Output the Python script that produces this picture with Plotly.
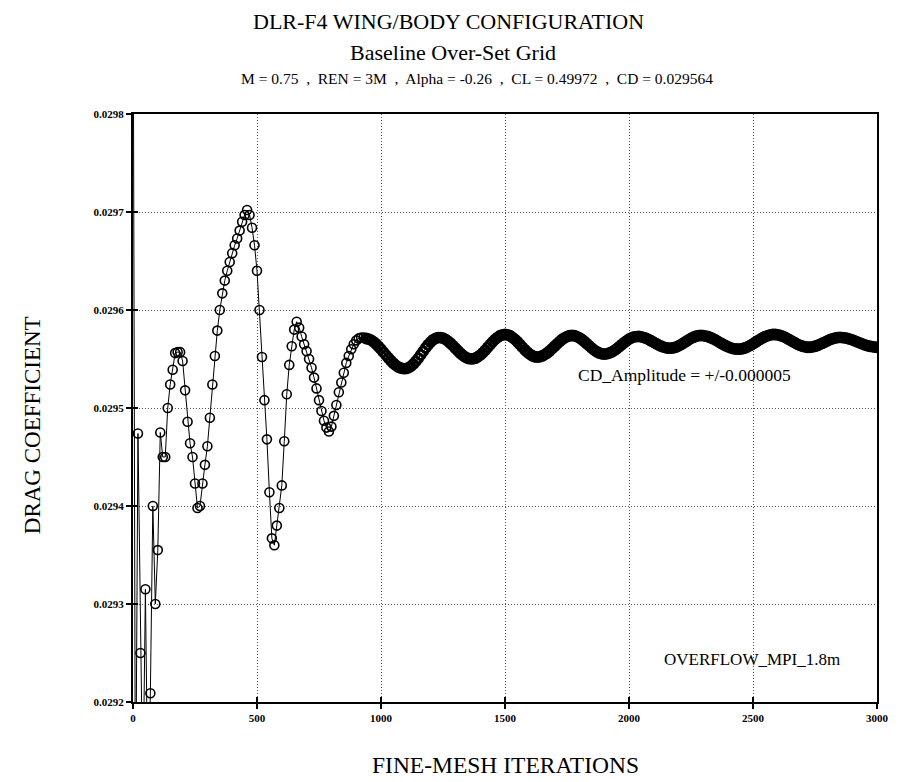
import plotly.graph_objects as go

# Sampling interval of the solver history (iterations)
ITER_STEP = 10

# Drag-coefficient history, transient phase (iterations 0 .. 930)
CD_TRANSIENT = [
    0.030000, 0.029050, 0.029474, 0.029250, 0.029100, 0.029315, 0.029100, 0.029209,
    0.029400, 0.029300, 0.029355, 0.029475, 0.029450, 0.029450, 0.029500, 0.029524,
    0.029539, 0.029556, 0.029557, 0.029557, 0.029548, 0.029518, 0.029486, 0.029464,
    0.029450, 0.029423, 0.029398, 0.029400, 0.029423, 0.029442, 0.029461, 0.029490,
    0.029524, 0.029553, 0.029579, 0.029600, 0.029617, 0.029630, 0.029640, 0.029649,
    0.029658, 0.029666, 0.029673, 0.029681, 0.029690, 0.029697, 0.029702, 0.029697,
    0.029684, 0.029666, 0.029640, 0.029600, 0.029552, 0.029508, 0.029468, 0.029414,
    0.029367, 0.029360, 0.029380, 0.029398, 0.029421, 0.029466, 0.029514, 0.029544,
    0.029563, 0.029580, 0.029588, 0.029582, 0.029573, 0.029565, 0.029558, 0.029550,
    0.029541, 0.029531, 0.029520, 0.029508, 0.029497, 0.029487, 0.029480, 0.029476,
    0.029481, 0.029492, 0.029503, 0.029516, 0.029526, 0.029536, 0.029546, 0.029553,
    0.029560, 0.029565, 0.029569, 0.029571, 0.029572, 0.029572,
]

# Drag-coefficient history, periodic phase (iterations 940 .. 3000)
CD_PERIODIC = [
    0.0295709, 0.0295703, 0.0295692, 0.0295675, 0.0295653, 0.0295628, 0.0295600, 0.0295570,
    0.0295540, 0.0295510, 0.0295482, 0.0295457, 0.0295435, 0.0295418, 0.0295407, 0.0295401,
    0.0295401, 0.0295409, 0.0295424, 0.0295447, 0.0295475, 0.0295507, 0.0295542, 0.0295578,
    0.0295613, 0.0295645, 0.0295673, 0.0295696, 0.0295711, 0.0295719, 0.0295719, 0.0295713,
    0.0295701, 0.0295683, 0.0295661, 0.0295636, 0.0295610, 0.0295584, 0.0295559, 0.0295537,
    0.0295520, 0.0295507, 0.0295501, 0.0295501, 0.0295508, 0.0295521, 0.0295539, 0.0295563,
    0.0295589, 0.0295618, 0.0295647, 0.0295675, 0.0295700, 0.0295721, 0.0295737, 0.0295747,
    0.0295750, 0.0295747, 0.0295737, 0.0295721, 0.0295700, 0.0295676, 0.0295649, 0.0295621,
    0.0295594, 0.0295570, 0.0295549, 0.0295533, 0.0295523, 0.0295520, 0.0295523, 0.0295531,
    0.0295544, 0.0295561, 0.0295582, 0.0295606, 0.0295630, 0.0295654, 0.0295678, 0.0295699,
    0.0295716, 0.0295729, 0.0295737, 0.0295740, 0.0295737, 0.0295729, 0.0295716, 0.0295699,
    0.0295679, 0.0295656, 0.0295634, 0.0295611, 0.0295591, 0.0295574, 0.0295561, 0.0295553,
    0.0295550, 0.0295552, 0.0295560, 0.0295571, 0.0295586, 0.0295604, 0.0295624, 0.0295645,
    0.0295666, 0.0295685, 0.0295702, 0.0295715, 0.0295725, 0.0295729, 0.0295730, 0.0295726,
    0.0295719, 0.0295710, 0.0295698, 0.0295684, 0.0295670, 0.0295656, 0.0295642, 0.0295630,
    0.0295621, 0.0295614, 0.0295610, 0.0295611, 0.0295615, 0.0295622, 0.0295634, 0.0295647,
    0.0295663, 0.0295679, 0.0295695, 0.0295710, 0.0295722, 0.0295732, 0.0295738, 0.0295740,
    0.0295738, 0.0295734, 0.0295727, 0.0295717, 0.0295705, 0.0295692, 0.0295677, 0.0295663,
    0.0295648, 0.0295635, 0.0295623, 0.0295613, 0.0295606, 0.0295602, 0.0295600, 0.0295602,
    0.0295607, 0.0295615, 0.0295626, 0.0295640, 0.0295655, 0.0295671, 0.0295687, 0.0295703,
    0.0295717, 0.0295729, 0.0295739, 0.0295746, 0.0295750, 0.0295750, 0.0295746, 0.0295740,
    0.0295731, 0.0295720, 0.0295706, 0.0295692, 0.0295678, 0.0295664, 0.0295650, 0.0295639,
    0.0295630, 0.0295624, 0.0295620, 0.0295620, 0.0295624, 0.0295630, 0.0295638, 0.0295649,
    0.0295661, 0.0295673, 0.0295685, 0.0295697, 0.0295706, 0.0295714, 0.0295718, 0.0295720,
    0.0295719, 0.0295716, 0.0295710, 0.0295703, 0.0295695, 0.0295685, 0.0295675, 0.0295665,
    0.0295655, 0.0295645, 0.0295637, 0.0295630, 0.0295626, 0.0295621, 0.0295620,
]

CD_HISTORY = CD_TRANSIENT + CD_PERIODIC
ITERATIONS = [i * ITER_STEP for i in range(len(CD_HISTORY))]

X_TICKS = [0, 500, 1000, 1500, 2000, 2500, 3000]
Y_TICKS = [0.0292, 0.0293, 0.0294, 0.0295, 0.0296, 0.0297, 0.0298]
X_RANGE = [0, 3000]
Y_RANGE = [0.0292, 0.0298]

TITLE_1 = "DLR-F4 WING/BODY CONFIGURATION"
TITLE_2 = "Baseline Over-Set Grid"
TITLE_3 = "M = 0.75  ,  REN = 3M  ,  Alpha = -0.26  ,  CL = 0.49972  ,  CD = 0.029564"
X_TITLE = "FINE-MESH ITERATIONS"
Y_TITLE = "DRAG COEFFICIENT"
NOTE_AMP = "CD_Amplitude = +/-0.000005"
NOTE_CODE = "OVERFLOW_MPI_1.8m"

SERIF = "Liberation Serif, Times New Roman, serif"

# densely packed symbols of the periodic phase print as a heavy band
symbol_stroke = [1.6] * len(CD_TRANSIENT) + [2.8] * len(CD_PERIODIC)

fig = go.Figure()

fig.add_trace(go.Scatter(
    x=ITERATIONS, y=CD_HISTORY,
    mode="lines+markers",
    line=dict(color="black", width=1),
    marker=dict(symbol="circle-open", size=9, color="black",
                line=dict(width=symbol_stroke, color="black")),
    showlegend=False, hoverinfo="skip",
))

# invisible trace that carries the inward half of the crossing tick marks
fig.add_trace(go.Scatter(
    x=[X_RANGE[0]], y=[Y_RANGE[0]], xaxis="x2", yaxis="y2",
    mode="markers", marker=dict(opacity=0), showlegend=False, hoverinfo="skip",
))

axis_common = dict(
    showline=True, linecolor="black", linewidth=2, mirror=True,
    ticks="outside", ticklen=5, tickwidth=1.5, tickcolor="black",
    showgrid=True, gridcolor="#555555", gridwidth=1, griddash="1px,2px",
    zeroline=False,
    tickfont=dict(family=SERIF, size=11, color="black", weight="bold"),
)

fig.update_layout(
    width=901, height=782,
    paper_bgcolor="white", plot_bgcolor="white",
    margin=dict(l=133, r=13, t=114, b=80),
    xaxis=dict(range=X_RANGE, tickvals=X_TICKS, ticktext=[str(v) for v in X_TICKS],
               **axis_common),
    yaxis=dict(range=Y_RANGE, tickvals=Y_TICKS, ticktext=[f"{v:.4f}" for v in Y_TICKS],
               **axis_common),
    xaxis2=dict(range=X_RANGE, tickvals=X_TICKS, overlaying="x", anchor="y2",
                showticklabels=False, ticks="inside", ticklen=5, tickwidth=1.5,
                tickcolor="black", showgrid=False, zeroline=False, showline=False),
    yaxis2=dict(range=Y_RANGE, tickvals=Y_TICKS, overlaying="y", anchor="x2",
                showticklabels=False, ticks="inside", ticklen=5, tickwidth=1.5,
                tickcolor="black", showgrid=False, zeroline=False, showline=False),
    showlegend=False,
)

def note(text, x, y, size, xanchor="center", angle=0):
    fig.add_annotation(
        text=text, x=x, y=y, xref="paper", yref="paper",
        xanchor=xanchor, yanchor="middle", showarrow=False, textangle=angle,
        font=dict(family=SERIF, size=size, color="black"),
    )

# headings above the plot
note(TITLE_1, 0.424, 1.157, 22)
note(TITLE_2, 0.430, 1.105, 22)
note(TITLE_3, 0.462, 1.060, 15.5)

# axis titles
note(X_TITLE, 0.500, -0.107, 23.5)
note(Y_TITLE, -0.135, 0.47, 23, angle=-90)

# notes inside the plot
note(NOTE_AMP, 0.596, 0.556, 17.5, xanchor="left")
note(NOTE_CODE, 0.711, 0.072, 17, xanchor="left")

fig.write_html("out.html")
